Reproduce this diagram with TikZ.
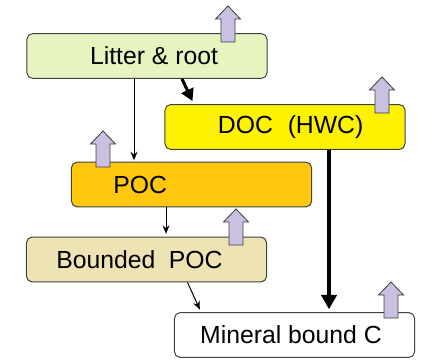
\documentclass[tikz,border=0pt]{standalone}
\usepackage{fontspec}
\setmainfont{Liberation Sans}
\usetikzlibrary{calc, arrows.meta}

\definecolor{litterfill}{HTML}{E6F5C0}
\definecolor{docfill}{HTML}{FFF200}
\definecolor{pocfill}{HTML}{FFC70D}
\definecolor{boundfill}{HTML}{EEE3B2}
\definecolor{fluxfill}{HTML}{C9C0E2}
\definecolor{edgegray}{HTML}{404040}

\tikzset{
	pool/.style={draw=edgegray, line width=0.7pt, rounded corners=4pt,
		minimum width=6cm, minimum height=1.12cm, inner sep=0pt,
		font=\fontsize{17.6}{20}\selectfont},
	fluxstyle/.style={draw=edgegray, line width=0.6pt, fill=fluxfill},
	flux/.pic={
		\draw[fluxstyle] (-7,0) -- (-7,-23) -- (-12.5,-23) -- (0,-36)
		-- (12.5,-23) -- (7,-23) -- (7,0) -- cycle;
	},
	thinflow/.style={-{Stealth[length=6pt, width=5pt]}, line width=0.7pt},
	thickflow/.style={-{Triangle[length=0.36cm, width=0.38cm]}, line width=2.5pt}
}

\begin{document}
\begin{tikzpicture}[x=0.025cm, y=-0.025cm]
	\useasboundingbox (0, 0) rectangle (426, 362);
	
	% pools
	\node[pool, fill=litterfill] (litter) at (147, 56) {\hspace*{10pt}Litter \& root};
	\node[pool, fill=docfill] (doc) at (285, 127) {\hspace*{8pt}DOC\hspace{0.6em}(HWC)};
	\node[pool, fill=pocfill, text width=3.9cm, inner xsep=1.05cm, align=left] (poc) at (191.5, 184.5) {POC};
	\node[pool, fill=boundfill] (bounded) at (146.5, 259.5) {\hspace*{-10pt}Bounded\hspace{0.55em}POC};
	\node[pool, fill=white] (mineral) at (294.5, 335) {\hspace*{-5pt}Mineral bound C};
	
	% losses out of each pool
	\pic (litterflux) at (228, 42) {flux};
	\pic (docflux) at (382, 113) {flux};
	\pic (pocflux) at (103, 167) {flux};
	\pic (boundedflux) at (236, 245) {flux};
	\pic (mineralflux) at (391, 318) {flux};
	
	% transfers
	\coordinate (lp) at (134, 0);
	\coordinate (pb) at (166, 0);
	\coordinate (dm) at (329, 0);
	
	\draw[thinflow, shorten >=1pt] (litter.south -| lp) -- (poc.north -| lp);
	\draw[line width=2.2pt, -{Triangle[length=0.3cm, width=0.32cm]}]
		($(litter.south)+(35, 0)$) -- ($(doc.north west)+(28, -3)$);
	\draw[thinflow, shorten >=2pt] (poc.south -| pb) -- (bounded.north -| pb);
	\draw[thinflow, shorten >=2pt] ($(bounded.south)+(41, 0)$) -- ($(mineral.north west)+(27, 0)$);
	\draw[thickflow, shorten >=2pt] (doc.south -| dm) -- (mineral.north -| dm);
	
\end{tikzpicture}
\end{document}
